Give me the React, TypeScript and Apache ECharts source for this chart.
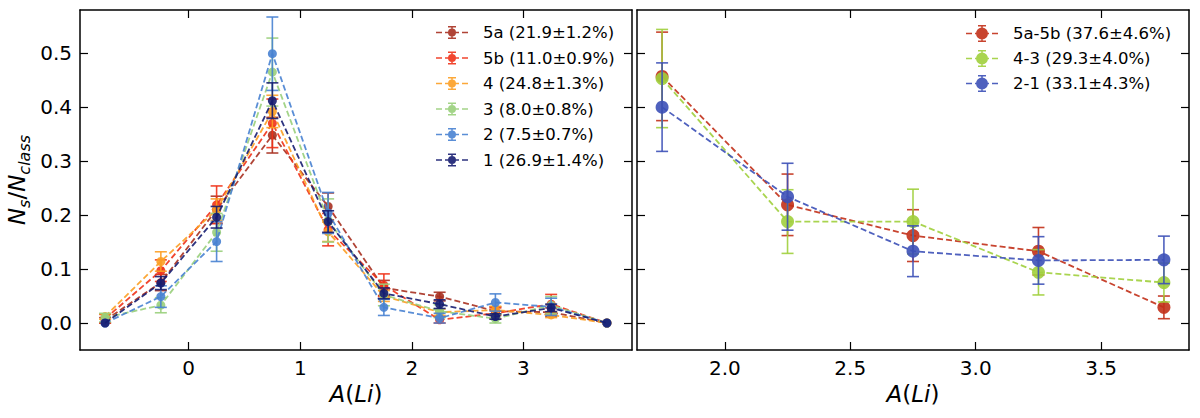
import React, { useEffect, useRef } from "react";
import * as echarts from "echarts";

// left panel: abundance bins and the six classes
const xLeft = [-0.75, -0.25, 0.25, 0.75, 1.25, 1.75, 2.25, 2.75, 3.25, 3.75];
const leftNames = [
  "5a (21.9±1.2%)",
  "5b (11.0±0.9%)",
  "4 (24.8±1.3%)",
  "3 (8.0±0.8%)",
  "2 (7.5±0.7%)",
  "1 (26.9±1.4%)",
];
const leftColors = ["#a73020", "#f03218", "#fc9f24", "#99cf7b", "#4882d1", "#161d71"];

const v5a = [0.005, 0.075, 0.21, 0.348, 0.216, 0.065, 0.049, 0.022, 0.02, 0];
const e5a = [0.005, 0.015, 0.025, 0.033, 0.025, 0.014, 0.008, 0.008, 0.008, 0];
const v5b = [0.008, 0.097, 0.219, 0.37, 0.173, 0.07, 0.006, 0.018, 0.035, 0];
const e5b = [0.008, 0.02, 0.035, 0.045, 0.03, 0.021, 0.006, 0.01, 0.018, 0];
const v4 = [0.012, 0.114, 0.21, 0.392, 0.169, 0.05, 0.02, 0.024, 0.015, 0];
const e4 = [0.005, 0.018, 0.02, 0.03, 0.018, 0.01, 0.006, 0.007, 0.005, 0];
const v3 = [0.01, 0.033, 0.168, 0.465, 0.19, 0.052, 0.022, 0.008, 0.033, 0];
const e3 = [0.008, 0.014, 0.035, 0.063, 0.04, 0.02, 0.012, 0.008, 0.016, 0];
const v2 = [0, 0.049, 0.151, 0.499, 0.204, 0.029, 0.009, 0.038, 0.03, 0];
const e2 = [0, 0.02, 0.037, 0.068, 0.038, 0.015, 0.009, 0.016, 0.016, 0];
const v1 = [0, 0.074, 0.196, 0.412, 0.188, 0.055, 0.035, 0.012, 0.028, 0];
const e1 = [0, 0.012, 0.02, 0.033, 0.02, 0.01, 0.008, 0.005, 0.007, 0];

// right panel: merged classes
const xRight = [1.75, 2.25, 2.75, 3.25, 3.75];
const rightNames = ["5a-5b (37.6±4.6%)", "4-3 (29.3±4.0%)", "2-1 (33.1±4.3%)"];
const rightColors = ["#c23018", "#a0cf3c", "#3c50b7"];
const v5ab = [0.457, 0.219, 0.162, 0.133, 0.029];
const e5ab = [0.082, 0.057, 0.048, 0.044, 0.021];
const v43 = [0.453, 0.188, 0.188, 0.094, 0.075];
const e43 = [0.091, 0.059, 0.06, 0.042, 0.036];
const v21 = [0.4, 0.234, 0.133, 0.116, 0.117];
const e21 = [0.082, 0.062, 0.047, 0.044, 0.044];

const yTicks = [0, 0.1, 0.2, 0.3, 0.4, 0.5];
const xTicksLeft = [0, 1, 2, 3];
const xTicksRight = [2, 2.5, 3, 3.5];

const FONT = "'DejaVu Sans'";

// errorbar legend glyph: dashes, marker, vertical bar with caps (32 wide)
const iconSmall =
  "path://M0 5.7h6v1.6H0z M9 5.7h14v1.6H9z M26 5.7h6v1.6h-6z M15.25 0h1.5v13h-1.5z M12 0h8v1.5h-8z M12 11.5h8v1.5h-8z M12 6.5a4 4 0 1 1 8 0a4 4 0 1 1 -8 0z";
const iconBig =
  "path://M0 7.7h6v1.6H0z M9 7.7h14v1.6H9z M26 7.7h6v1.6h-6z M15.25 0h1.5v17h-1.5z M12 0h8v1.5h-8z M12 15.5h8v1.5h-8z M10 8.5a6 6 0 1 1 12 0a6 6 0 1 1 -12 0z";

const errorBars = (cap: number, color: string) => (_p: any, api: any) => {
  const x = api.value(0);
  const top = api.coord([x, api.value(2)]);
  const bot = api.coord([x, api.value(1)]);
  const style = { stroke: color, lineWidth: 1.6, opacity: 0.9 };
  return {
    type: "group",
    children: [
      { type: "line", shape: { x1: top[0], y1: top[1], x2: bot[0], y2: bot[1] }, style },
      { type: "line", shape: { x1: top[0] - cap, y1: top[1], x2: top[0] + cap, y2: top[1] }, style },
      { type: "line", shape: { x1: bot[0] - cap, y1: bot[1], x2: bot[0] + cap, y2: bot[1] }, style },
    ],
  };
};

const makeGroup = (
  name: string,
  color: string,
  xs: number[],
  vals: number[],
  errs: number[],
  panel: number,
  size: number,
  cap: number,
  z: number
) => [
  {
    name,
    type: "line",
    xAxisIndex: panel * 2,
    yAxisIndex: panel * 2,
    data: xs.map((x, i) => [x, vals[i]]),
    symbol: "circle",
    symbolSize: size,
    itemStyle: { color, opacity: 0.9 },
    lineStyle: { color, width: 1.8, type: [6, 3], opacity: 0.9 },
    z,
  },
  {
    type: "custom",
    xAxisIndex: panel * 2,
    yAxisIndex: panel * 2,
    silent: true,
    data: xs
      .map((x, i) => [x, vals[i] - errs[i], vals[i] + errs[i], errs[i]])
      .filter((d) => d[3] > 0),
    encode: { x: 0, y: [1, 2] },
    renderItem: errorBars(cap, color),
    z,
  },
];

const axisBase = {
  type: "value",
  axisLine: { onZero: false, lineStyle: { color: "#000", width: 1.5 } },
  axisTick: { inside: true, length: 8, lineStyle: { color: "#000", width: 1.2 } },
  splitLine: { show: false },
};

const App: React.FC = () => {
  const ref = useRef<HTMLDivElement>(null);

  useEffect(() => {
    if (!ref.current) return;
    const chart = echarts.init(ref.current, undefined, { renderer: "svg" });

    const leftVals = [v5a, v5b, v4, v3, v2, v1];
    const leftErrs = [e5a, e5b, e4, e3, e2, e1];
    const rightVals = [v5ab, v43, v21];
    const rightErrs = [e5ab, e43, e21];

    const series: any[] = [];
    leftNames.forEach((n, i) =>
      series.push(...makeGroup(n, leftColors[i], xLeft, leftVals[i], leftErrs[i], 0, 9, 6, 2 + i))
    );
    rightNames.forEach((n, i) =>
      series.push(...makeGroup(n, rightColors[i], xRight, rightVals[i], rightErrs[i], 1, 13, 6, 2 + i))
    );

    const tickLabel = { color: "#000", fontSize: 20, fontFamily: FONT, margin: 8 };
    const titleRich = {
      i: { fontSize: 23, fontStyle: "italic", fontFamily: FONT, color: "#000" },
      n: { fontSize: 23, fontFamily: FONT, color: "#000" },
      s: {
        fontSize: 16,
        fontStyle: "italic",
        fontFamily: FONT,
        color: "#000",
        verticalAlign: "top",
        padding: [14, 0, 0, 0],
      },
    };
    const xName = "{i|A}{n|(}{i|Li}{n|)}";
    const legendText = {
      fontSize: 16.5,
      fontFamily: FONT,
      color: "#000",
      rich: {
        g: { width: 10, fontSize: 16.5, fontFamily: FONT },
        t: { fontSize: 16.5, fontFamily: FONT, color: "#000" },
      },
    };
    const legendFormat = (name: string) => `{g| }{t|${name}}`;

    chart.setOption({
      animation: false,
      backgroundColor: "#fff",
      grid: [
        { left: 80, top: 10, width: 552, height: 340 },
        { left: 637, top: 10, width: 552, height: 340 },
      ],
      xAxis: [
        {
          ...axisBase,
          gridIndex: 0,
          position: "bottom",
          min: -0.975,
          max: 3.975,
          axisTick: { ...axisBase.axisTick, customValues: xTicksLeft },
          axisLabel: { ...tickLabel, customValues: xTicksLeft, formatter: (v: number) => String(v) },
          name: xName,
          nameLocation: "middle",
          nameGap: 30,
          nameTextStyle: { rich: titleRich },
        },
        {
          ...axisBase,
          gridIndex: 0,
          position: "top",
          min: -0.975,
          max: 3.975,
          axisTick: { ...axisBase.axisTick, customValues: xTicksLeft },
          axisLabel: { show: false },
        },
        {
          ...axisBase,
          gridIndex: 1,
          position: "bottom",
          min: 1.65,
          max: 3.85,
          axisTick: { ...axisBase.axisTick, customValues: xTicksRight },
          axisLabel: { ...tickLabel, customValues: xTicksRight, formatter: (v: number) => v.toFixed(1) },
          name: xName,
          nameLocation: "middle",
          nameGap: 30,
          nameTextStyle: { rich: titleRich },
        },
        {
          ...axisBase,
          gridIndex: 1,
          position: "top",
          min: 1.65,
          max: 3.85,
          axisTick: { ...axisBase.axisTick, customValues: xTicksRight },
          axisLabel: { show: false },
        },
      ],
      yAxis: [
        {
          ...axisBase,
          gridIndex: 0,
          position: "left",
          min: -0.05,
          max: 0.58,
          axisTick: { ...axisBase.axisTick, customValues: yTicks },
          axisLabel: { ...tickLabel, customValues: yTicks, formatter: (v: number) => v.toFixed(1) },
          name: "{i|N}{s|s}{n|/}{i|N}{s|class}",
          nameLocation: "middle",
          nameRotate: 90,
          nameGap: 48,
          nameTextStyle: { rich: titleRich },
        },
        {
          ...axisBase,
          gridIndex: 0,
          position: "right",
          min: -0.05,
          max: 0.58,
          axisTick: { ...axisBase.axisTick, customValues: yTicks },
          axisLabel: { show: false },
        },
        {
          ...axisBase,
          gridIndex: 1,
          position: "left",
          min: -0.05,
          max: 0.58,
          axisTick: { ...axisBase.axisTick, customValues: yTicks },
          axisLabel: { show: false },
        },
        {
          ...axisBase,
          gridIndex: 1,
          position: "right",
          min: -0.05,
          max: 0.58,
          axisTick: { ...axisBase.axisTick, customValues: yTicks },
          axisLabel: { show: false },
        },
      ],
      legend: [
        {
          data: leftNames,
          orient: "vertical",
          left: 436,
          top: 24,
          padding: 0,
          itemWidth: 32,
          itemHeight: 13,
          itemGap: 8.5,
          icon: iconSmall,
          selectedMode: false,
          formatter: legendFormat,
          textStyle: legendText,
        },
        {
          data: rightNames,
          orient: "vertical",
          left: 966,
          top: 25,
          padding: 0,
          itemWidth: 32,
          itemHeight: 17,
          itemGap: 8,
          icon: iconBig,
          selectedMode: false,
          formatter: legendFormat,
          textStyle: legendText,
        },
      ],
      series,
    });

    return () => {
      chart.dispose();
    };
  }, []);

  return (
    <div
      ref={ref}
      style={{ position: "absolute", left: 0, top: 0, width: 1200, height: 418 }}
    />
  );
};

export default App;
